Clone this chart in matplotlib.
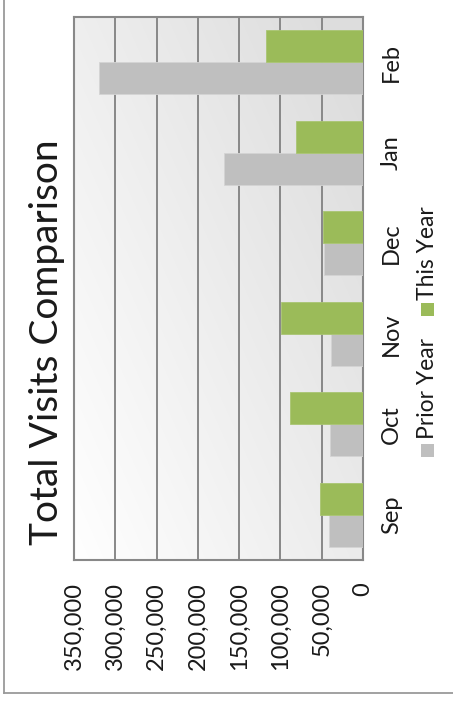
import numpy as np
import matplotlib
matplotlib.use("Agg")
import matplotlib.pyplot as plt
from matplotlib.patches import Rectangle
from matplotlib.lines import Line2D
from matplotlib.ticker import FuncFormatter

plt.rcParams["font.family"] = ["Lato", "DejaVu Sans"]

# ── data ──────────────────────────────────────────────────────────────────────
months     = ["Sep", "Oct", "Nov", "Dec", "Jan", "Feb"]
prior_year = [40800, 40000, 39100, 46800, 168600, 319600]
this_year  = [52000, 88400, 99300, 48400, 80700, 117800]
x_ticks    = [0, 50000, 100000, 150000, 200000, 250000, 300000, 350000]

GREEN = "#9bbb59"
GRAY  = "#bfbfbf"
GRID  = "#888888"
TEXT  = "#1a1a1a"
WEIGHT = "normal"

fig = plt.figure(figsize=(4.53, 7.02), dpi=100)
ax = fig.add_axes([74 / 453, 142 / 702, 289 / 453, 543 / 702])

# gradient plot area
u = np.linspace(0, 1, 200)
U, V = np.meshgrid(u, u)
g = 1.0 - 0.13 * np.clip(0.6 * U + 0.5 * V, 0, 1)
ax.imshow(np.dstack([g, g, g]), extent=[0, 1, 0, 1], transform=ax.transAxes,
          origin="lower", aspect="auto", zorder=0, interpolation="bilinear")

pos = np.arange(len(months))
h = 0.354
ax.barh(pos - h / 2, prior_year, height=h, color=GRAY, edgecolor="#d4d4d4",
        linewidth=0.6, zorder=3)
ax.barh(pos + h / 2, this_year, height=h, color=GREEN, edgecolor="#a9c572",
        linewidth=0.6, zorder=3)

ax.set_xlim(350000, 0)
ax.set_ylim(-0.5, len(months) - 0.5)
ax.set_xticks(x_ticks)
ax.xaxis.set_major_formatter(FuncFormatter(lambda v, _: f"{int(v):,}"))
ax.grid(True, axis="x", color=GRID, linewidth=1.4, zorder=1)
ax.set_axisbelow(True)
for s in ax.spines.values():
    s.set_color(GRID)
    s.set_linewidth(1.5)

ax.tick_params(axis="x", length=0, pad=16, labelsize=17, labelcolor=TEXT,
               labelrotation=90)
ax.yaxis.tick_right()
ax.set_yticks(pos)
ax.set_yticklabels(months, rotation=90, va="center")
ax.tick_params(axis="y", length=0, pad=13, labelsize=17, labelcolor=TEXT)
for lbl in ax.get_xticklabels() + ax.get_yticklabels():
    lbl.set_fontweight(WEIGHT)

# title
fig.text(47 / 453, (702 - 545) / 702, "Total Visits Comparison", rotation=90,
         ha="center", va="bottom", fontsize=28, fontweight=WEIGHT, color=TEXT)

# legend (rotated with the chart)
for label, color, sq_y, txt_y in [("Prior Year", GRAY, 450, 439),
                                  ("This Year", GREEN, 310, 300)]:
    fig.patches.append(Rectangle(((427 - 6.5) / 453, (702 - sq_y - 6.5) / 702),
                                 13 / 453, 13 / 702, transform=fig.transFigure,
                                 facecolor=color, edgecolor="none"))
    fig.text(427 / 453, (702 - txt_y) / 702, label, rotation=90, ha="center",
             va="bottom", fontsize=16.5, fontweight=WEIGHT, color=TEXT)

# outer frame (left and bottom edges visible)
fig.add_artist(Line2D([3.5 / 453, 3.5 / 453], [9.5 / 702, 1], color="#9a9a9a",
                      linewidth=1.3, transform=fig.transFigure))
fig.add_artist(Line2D([3.5 / 453, 1], [9.5 / 702, 9.5 / 702], color="#9a9a9a",
                      linewidth=1.3, transform=fig.transFigure))

fig.savefig("out.png", dpi=100, facecolor="white")
